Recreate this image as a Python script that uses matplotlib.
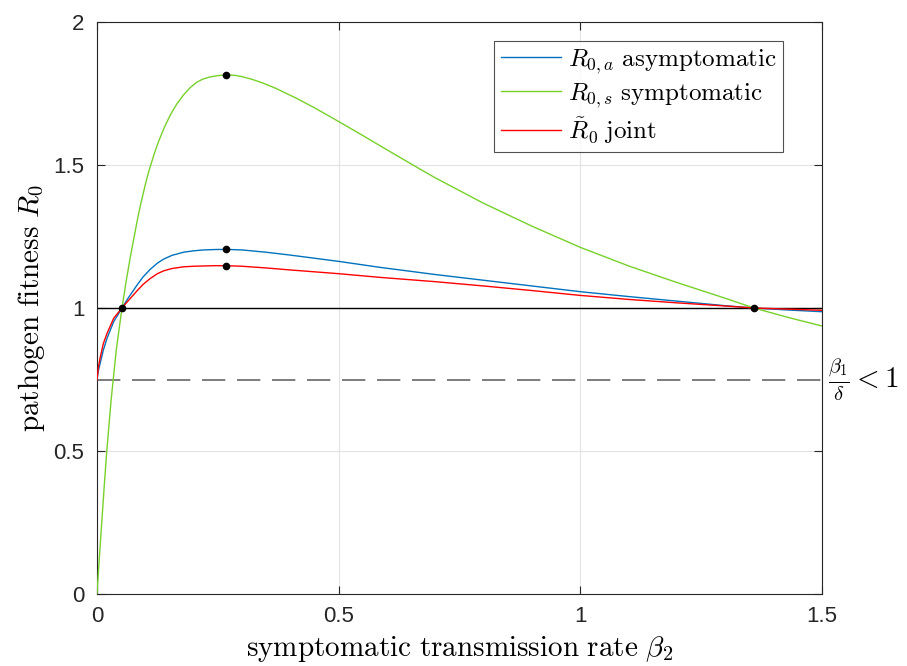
import matplotlib
matplotlib.use("Agg")
import matplotlib.pyplot as plt

# ---- data ----
beta2_green = [0.0, 0.005, 0.010, 0.015, 0.020, 0.029, 0.040, 0.0517, 0.060, 0.069, 0.083,
               0.090, 0.100, 0.107, 0.118, 0.128, 0.140, 0.152, 0.165, 0.179, 0.193,
               0.207, 0.220, 0.234, 0.250, 0.267, 0.285, 0.300, 0.320, 0.344, 0.370,
               0.413, 0.450, 0.500, 0.550, 0.600, 0.668, 0.700, 0.800, 0.900, 1.000,
               1.100, 1.200, 1.300, 1.359, 1.430, 1.500]
R0s = [0.0, 0.13, 0.255, 0.378, 0.495, 0.675, 0.855, 1.0, 1.09, 1.179, 1.304,
       1.36, 1.432, 1.477, 1.537, 1.585, 1.634, 1.676, 1.713, 1.745, 1.771,
       1.790, 1.801, 1.808, 1.8125, 1.815, 1.8135, 1.809, 1.800, 1.786, 1.768,
       1.733, 1.700, 1.652, 1.603, 1.553, 1.486, 1.455, 1.366, 1.286, 1.212,
       1.147, 1.089, 1.034, 1.0, 0.967, 0.937]

beta2_blue = [0.0, 0.003, 0.007, 0.013, 0.0207, 0.0345, 0.0517, 0.065, 0.0828, 0.095,
              0.110, 0.125, 0.138, 0.155, 0.179, 0.200, 0.221, 0.245, 0.267, 0.300,
              0.350, 0.400, 0.500, 0.586, 0.700, 0.800, 0.900, 1.000, 1.100, 1.200,
              1.300, 1.359, 1.430, 1.500]
R0a = [0.75, 0.782, 0.81, 0.852, 0.894, 0.952, 1.0, 1.036, 1.080, 1.108,
       1.135, 1.157, 1.171, 1.184, 1.195, 1.200, 1.203, 1.2045, 1.205, 1.203,
       1.195, 1.185, 1.163, 1.142, 1.117, 1.097, 1.077, 1.057, 1.040, 1.024,
       1.008, 1.0, 0.993, 0.987]

beta2_red = [0.0, 0.003, 0.007, 0.013, 0.0207, 0.0345, 0.0517, 0.065, 0.0828, 0.095,
             0.110, 0.125, 0.138, 0.155, 0.179, 0.200, 0.221, 0.245, 0.267, 0.300,
             0.350, 0.400, 0.500, 0.586, 0.700, 0.800, 0.900, 1.000, 1.100, 1.200,
             1.300, 1.359, 1.430, 1.500]
R0j = [0.75, 0.795, 0.83, 0.875, 0.911, 0.964, 1.0, 1.026, 1.060, 1.082,
       1.103, 1.120, 1.130, 1.138, 1.144, 1.146, 1.147, 1.148, 1.148, 1.146,
       1.140, 1.133, 1.120, 1.107, 1.092, 1.077, 1.061, 1.044, 1.030, 1.018,
       1.007, 1.0, 0.996, 0.992]

dots_x = [0.0517, 0.267, 0.267, 0.267, 1.359]
dots_y = [1.0, 1.815, 1.205, 1.148, 1.0]

threshold = 0.75
xticks = [0, 0.5, 1, 1.5]
yticks = [0, 0.5, 1, 1.5, 2]

# ---- styling ----
plt.rcParams['mathtext.fontset'] = 'cm'
plt.rcParams['font.family'] = ['Liberation Sans', 'DejaVu Sans']

fig = plt.figure(figsize=(9.07, 6.66), dpi=100)
ax = fig.add_axes([97/907, 1 - 594/666, (822-97)/907, (594-22)/666])

c_blue = '#0072BD'
c_green = '#77D12A'
c_red = '#FF0000'

ax.plot(beta2_blue, R0a, color=c_blue, lw=1.0, label=r'$R_{0,a}\ \mathrm{asymptomatic}$', zorder=3)
ax.plot(beta2_green, R0s, color=c_green, lw=1.0, label=r'$R_{0,s}\ \mathrm{symptomatic}$', zorder=3)
ax.plot(beta2_red, R0j, color=c_red, lw=1.0, label=r'$\tilde{R}_0\ \mathrm{joint}$', zorder=3)

ax.axhline(1.0, color='black', lw=1.0, zorder=2)
ax.axhline(threshold, color='#666666', lw=1.2, ls=(0, (14, 7)), zorder=2)

ax.plot(dots_x, dots_y, 'o', color='black', ms=4.5, zorder=4)

ax.set_xlim(0, 1.5)
ax.set_ylim(0, 2)
ax.set_xticks(xticks)
ax.set_yticks(yticks)
ax.set_xticklabels(['0', '0.5', '1', '1.5'])
ax.set_yticklabels(['0', '0.5', '1', '1.5', '2'])
ax.tick_params(direction='in', length=6, width=0.8, top=True, right=True,
               labelsize=16, colors='#262626', pad=9)
for s in ax.spines.values():
    s.set_color('#262626')
    s.set_linewidth(0.8)
ax.grid(True, color='#e3e3e3', lw=0.8, zorder=0)
ax.set_axisbelow(True)

ax.set_xlabel(r'$\mathrm{symptomatic\ transmission\ rate}\ \beta_2$', fontsize=21, labelpad=5)
ax.set_ylabel(r'$\mathrm{pathogen\ fitness}\ R_0$', fontsize=21, labelpad=5)

ax.text(1.0 + 6/725, threshold, r'$\frac{\beta_1}{\delta} < 1$', transform=ax.get_yaxis_transform(),
        fontsize=21, va='center', ha='left')

leg = ax.legend(loc='upper right', bbox_to_anchor=(0.946, 0.967), bbox_transform=ax.transAxes,
                borderaxespad=0, fontsize=18, frameon=True, fancybox=False,
                edgecolor='#262626', handlelength=2.4, handletextpad=0.3,
                labelspacing=0.2, borderpad=0.25)
leg.get_frame().set_linewidth(0.8)

fig.savefig('out.png', dpi=100)
